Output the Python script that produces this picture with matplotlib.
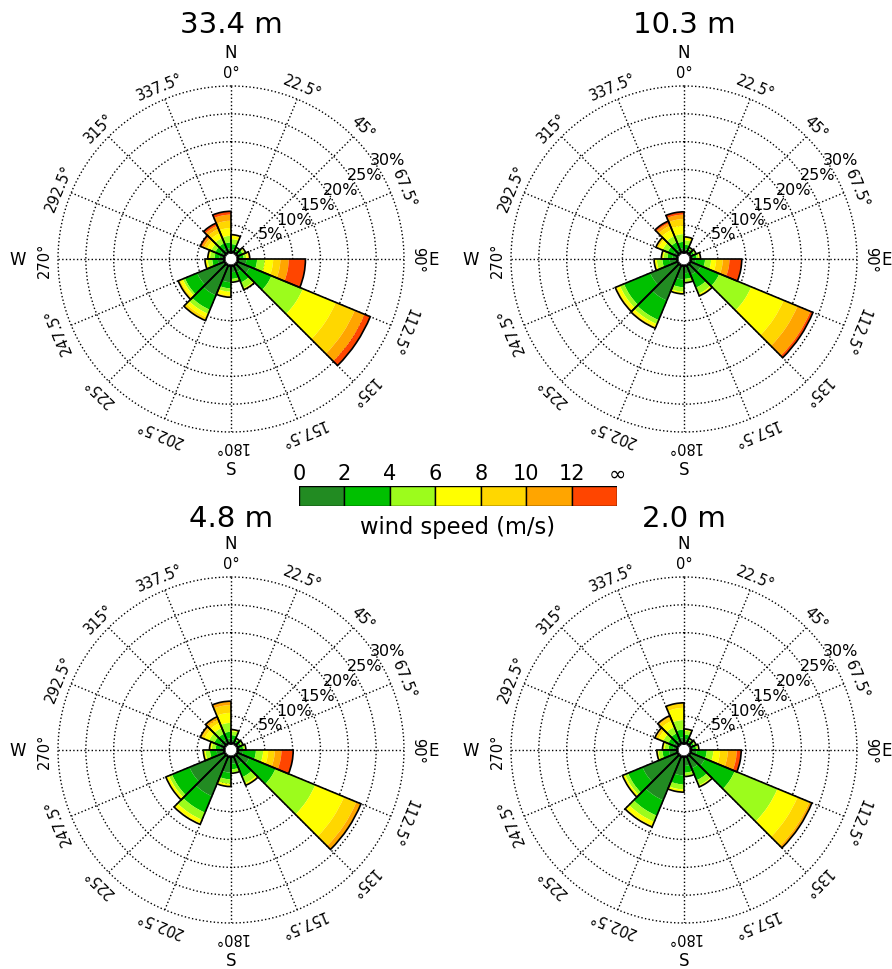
import numpy as np
import matplotlib.pyplot as plt
from matplotlib.patches import Circle

plt.rcParams['font.family'] = ['DejaVu Sans']

heights = ['33.4 m', '10.3 m', '4.8 m', '2.0 m']
speed_labels = ['0', '2', '4', '6', '8', '10', '12', '∞']
speed_colors = ['#228B22', '#00C000', '#9CFC1C', '#FFFF00', '#FFD700', '#FFA500', '#FF4500']
directions = np.arange(0, 360, 22.5)
dir_labels = ['0°', '22.5°', '45°', '67.5°', '90°', '112.5°', '135°', '157.5°',
              '180°', '202.5°', '225°', '247.5°', '270°', '292.5°', '315°', '337.5°']
ring_pcts = [5, 10, 15, 20, 25, 30]

# frequency (%) for each 22.5 deg sector (rows) and speed class (columns)
freq_334 = [
    [0.7, 0.9, 0.9, 0.6, 0.2, 0.0, 0.0],
    [0.5, 0.4, 0.2, 0.1, 0.0, 0.0, 0.0],
    [0.6, 0.6, 0.4, 0.2, 0.0, 0.0, 0.0],
    [0.6, 0.6, 0.5, 0.3, 0.2, 0.1, 0.0],
    [1.7, 1.9, 1.4, 1.5, 1.3, 1.5, 3.0],
    [2.6, 4.2, 6.1, 6.4, 3.7, 1.9, 1.1],
    [1.5, 2.0, 1.1, 0.3, 0.0, 0.0, 0.0],
    [1.3, 1.2, 0.5, 0.1, 0.0, 0.0, 0.0],
    [3.1, 1.1, 0.6, 0.7, 0.3, 0.0, 0.0],
    [6.0, 2.8, 0.8, 0.7, 0.6, 0.0, 0.0],
    [5.5, 2.4, 0.4, 0.5, 0.4, 0.0, 0.0],
    [1.3, 1.0, 0.8, 0.5, 0.0, 0.0, 0.0],
    [1.0, 0.9, 0.8, 0.4, 0.0, 0.0, 0.0],
    [1.0, 1.0, 0.8, 0.8, 0.6, 0.4, 0.3],
    [1.0, 1.0, 1.0, 1.0, 0.8, 0.6, 0.5],
    [0.9, 1.0, 1.2, 1.4, 1.3, 1.1, 0.6],
]
freq_103 = [
    [0.7, 0.8, 0.8, 0.6, 0.0, 0.0, 0.0],
    [0.5, 0.4, 0.2, 0.1, 0.0, 0.0, 0.0],
    [0.5, 0.4, 0.3, 0.1, 0.0, 0.0, 0.0],
    [0.6, 0.6, 0.4, 0.2, 0.1, 0.0, 0.0],
    [1.0, 1.7, 1.1, 0.9, 1.2, 1.2, 2.2],
    [2.2, 3.6, 6.2, 6.3, 2.7, 2.5, 0.5],
    [2.0, 2.5, 1.2, 0.4, 0.0, 0.0, 0.0],
    [1.5, 1.0, 0.6, 0.1, 0.0, 0.0, 0.0],
    [2.6, 1.4, 0.8, 0.4, 0.0, 0.0, 0.0],
    [7.0, 3.8, 0.8, 0.5, 0.3, 0.0, 0.0],
    [5.5, 5.1, 0.8, 0.6, 0.3, 0.0, 0.0],
    [1.5, 1.3, 1.0, 0.5, 0.0, 0.0, 0.0],
    [1.0, 0.9, 0.7, 0.4, 0.0, 0.0, 0.0],
    [1.0, 1.1, 1.0, 0.8, 0.5, 0.0, 0.0],
    [1.0, 1.2, 1.2, 1.2, 0.8, 0.5, 0.4],
    [0.9, 1.1, 1.4, 1.5, 1.2, 0.8, 0.5],
]
freq_48 = [
    [0.8, 0.8, 0.7, 0.3, 0.0, 0.0, 0.0],
    [0.5, 0.4, 0.2, 0.1, 0.0, 0.0, 0.0],
    [0.5, 0.4, 0.3, 0.1, 0.0, 0.0, 0.0],
    [0.6, 0.5, 0.3, 0.2, 0.0, 0.0, 0.0],
    [1.1, 2.3, 1.3, 0.9, 1.2, 1.2, 2.1],
    [2.5, 5.1, 7.7, 5.6, 2.4, 0.9, 0.0],
    [1.8, 2.4, 1.2, 0.4, 0.0, 0.0, 0.0],
    [1.4, 1.0, 0.6, 0.1, 0.0, 0.0, 0.0],
    [3.0, 1.2, 0.8, 0.5, 0.0, 0.0, 0.0],
    [7.9, 3.2, 1.4, 0.7, 0.2, 0.0, 0.0],
    [7.0, 3.4, 0.6, 0.5, 0.1, 0.0, 0.0],
    [1.5, 1.2, 0.8, 0.4, 0.0, 0.0, 0.0],
    [0.9, 0.8, 0.7, 0.4, 0.0, 0.0, 0.0],
    [1.1, 1.1, 1.0, 0.9, 0.5, 0.3, 0.0],
    [1.0, 1.1, 1.1, 1.0, 0.7, 0.5, 0.0],
    [1.0, 1.2, 1.6, 1.8, 1.4, 0.7, 0.0],
]
freq_20 = [
    [0.9, 0.8, 0.7, 0.3, 0.0, 0.0, 0.0],
    [0.5, 0.4, 0.2, 0.1, 0.0, 0.0, 0.0],
    [0.5, 0.4, 0.3, 0.1, 0.0, 0.0, 0.0],
    [0.6, 0.5, 0.3, 0.2, 0.0, 0.0, 0.0],
    [1.2, 1.8, 1.2, 1.2, 1.4, 1.6, 0.8],
    [3.0, 5.8, 8.3, 3.9, 2.3, 0.5, 0.0],
    [2.5, 2.3, 1.0, 0.3, 0.0, 0.0, 0.0],
    [1.8, 1.2, 0.6, 0.1, 0.0, 0.0, 0.0],
    [3.5, 1.6, 0.9, 0.4, 0.1, 0.0, 0.0],
    [8.7, 3.0, 1.2, 0.8, 0.2, 0.0, 0.0],
    [7.0, 2.8, 0.6, 0.4, 0.1, 0.0, 0.0],
    [1.6, 1.2, 0.7, 0.3, 0.0, 0.0, 0.0],
    [0.9, 0.8, 0.7, 0.4, 0.0, 0.0, 0.0],
    [1.0, 1.0, 1.0, 0.9, 0.5, 0.2, 0.0],
    [1.0, 1.2, 1.2, 1.2, 0.7, 0.3, 0.0],
    [1.2, 1.4, 1.7, 2.2, 0.9, 0.0, 0.0],
]
roses = [freq_334, freq_103, freq_48, freq_20]

W, H = 892, 970
fig = plt.figure(figsize=(W / 100, H / 100), dpi=100)

# pixel centres of the four roses and radius of the 30% ring
centers = [(231, 260), (684, 260), (231, 751), (684, 751)]
R = 173
r0 = 1.07  # hole in the middle, in % units

theta = np.radians(directions)
width = np.radians(22.5)


def px_to_r(px):
    # distance from the centre in pixels -> radial data units
    return px * (30 + r0) / R - r0


for name, freq, (cx, cy) in zip(heights, roses, centers):
    ax = fig.add_axes([(cx - R) / W, (H - cy - R) / H, 2 * R / W, 2 * R / H],
                      projection='polar')
    ax.set_theta_zero_location('N')
    ax.set_theta_direction(-1)
    ax.set_rorigin(-r0)
    ax.set_ylim(0, 30)

    freq = np.array(freq)
    bottom = np.zeros(len(directions))
    for k in range(freq.shape[1]):
        ax.bar(theta, freq[:, k], width=width, bottom=bottom, align='edge',
               color=speed_colors[k], linewidth=0, zorder=2)
        bottom = bottom + freq[:, k]
    # outline round each whole sector
    ax.bar(theta, bottom, width=width, align='edge', fill=False,
           edgecolor='black', linewidth=1.2, zorder=3)

    ax.set_xticks(theta)
    ax.set_xticklabels([])
    ax.set_yticks(ring_pcts)
    ax.set_yticklabels([])
    ax.tick_params(length=0)
    ax.grid(True, color='black', linestyle=':', linewidth=1)
    for gl in ax.yaxis.get_gridlines():
        gl.set_clip_on(False)
    ax.spines['polar'].set_visible(False)

    # direction labels, turned along the circle
    for d, lab in zip(directions, dir_labels):
        ax.text(np.radians(d), px_to_r(188), lab, rotation=-d, rotation_mode='anchor',
                ha='center', va='center_baseline', fontsize=10.5, clip_on=False)
    for d, lab, dist in zip([0, 90, 180, 270], ['N', 'E', 'S', 'W'], [207, 203, 210, 213]):
        ax.text(np.radians(d), px_to_r(dist), lab, ha='center', va='center',
                fontsize=12, clip_on=False)

    # ring labels
    for p in ring_pcts:
        ax.text(np.radians(57.5), p + 2.3, f'{p}%', ha='center', va='center',
                fontsize=11.5, clip_on=False, zorder=4)

    ax.add_patch(Circle((0.5, 0.5), 7 / (2 * R), transform=ax.transAxes,
                        facecolor='#CCCCCC', edgecolor='black', linewidth=1.5,
                        zorder=5))

    ty = 25 if cy < 500 else 519
    fig.text(cx / W, 1 - ty / H, name, ha='center', va='center', fontsize=21)

# speed colour key
cax = fig.add_axes([299 / W, (H - 507) / H, 318 / W, 20 / H])
cax.bar(np.arange(7), np.ones(7), width=1, align='edge', color=speed_colors,
        edgecolor='black', linewidth=1)
cax.set_xlim(0, 7)
cax.set_ylim(0, 1)
cax.set_xticks(np.arange(8))
cax.set_xticklabels(speed_labels, fontsize=15)
cax.xaxis.tick_top()
cax.tick_params(length=0, pad=2)
cax.set_yticks([])
for s in cax.spines.values():
    s.set_visible(False)
fig.text(458 / W, 1 - 528 / H, 'wind speed (m/s)', ha='center', va='center',
         fontsize=16.3)

fig.savefig('out.png', dpi=100)
